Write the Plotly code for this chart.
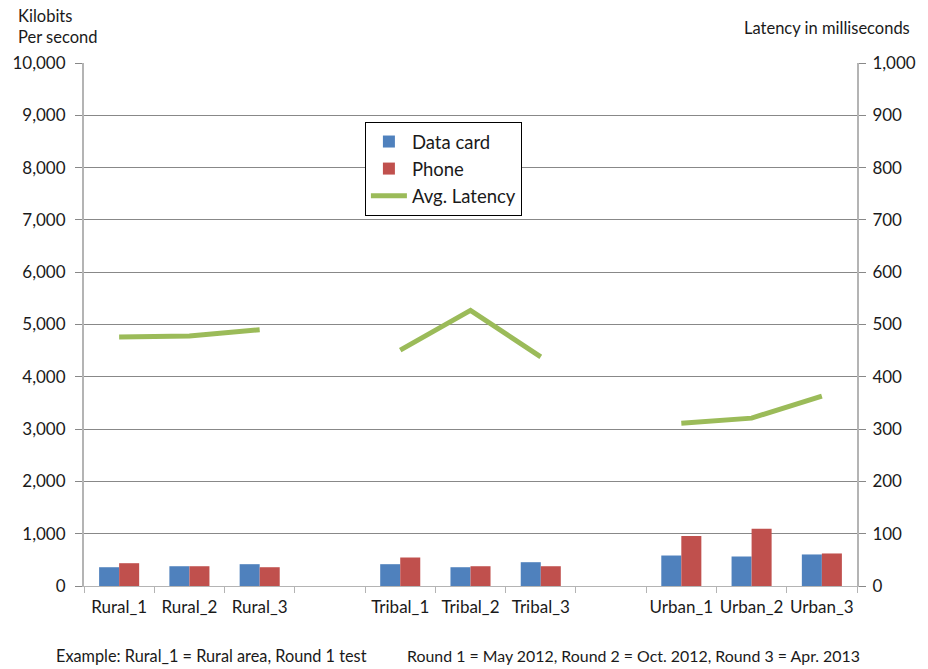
import plotly.graph_objects as go

# Test sites; blank slots separate the Rural / Tribal / Urban groups
categories = ["Rural_1", "Rural_2", "Rural_3", " ",
              "Tribal_1", "Tribal_2", "Tribal_3", "  ",
              "Urban_1", "Urban_2", "Urban_3"]

# Throughput in kilobits per second
data_card = [359, 378, 417, None, 417, 359, 455, None, 583, 564, 603]
phone = [436, 378, 359, None, 545, 378, 378, None, 955, 1096, 622]

# Average latency in milliseconds
avg_latency = [476, 478, 490, None, 451, 527, 438, None, 311, 321, 363]

FONT = "Lato, 'Open Sans', sans-serif"
GRID = "#888888"
AXIS = "#b4b4b4"

W, H = 928, 669
L, R, T, B = 83, 69, 63, 83
pw, ph = W - L - R, H - T - B


def px_x(x):
    return (x - L) / pw


def px_y(y):
    return (H - B - y) / ph


fig = go.Figure()
fig.add_trace(go.Bar(x=categories, y=data_card, name="Data card",
                     marker=dict(color="#4f81bd", line=dict(width=0))))
fig.add_trace(go.Bar(x=categories, y=phone, name="Phone",
                     marker=dict(color="#c0504d", line=dict(width=0))))
fig.add_trace(go.Scatter(x=categories, y=avg_latency, name="Avg. Latency",
                         mode="lines", yaxis="y2", connectgaps=False,
                         line=dict(color="#9bbb59", width=5)))


def note(text, x, y, size=16.5, xanchor="left", align="left"):
    return dict(text=text, x=px_x(x), y=px_y(y), xref="paper", yref="paper",
                showarrow=False, align=align, xanchor=xanchor, yanchor="top",
                borderpad=0, font=dict(family=FONT, size=size, color="#1a1a1a"))


fig.update_layout(
    width=W, height=H,
    margin=dict(l=L, r=R, t=T, b=B, pad=0),
    paper_bgcolor="white", plot_bgcolor="white",
    font=dict(family=FONT, size=17, color="#1a1a1a"),
    barmode="group", bargap=0.43, bargroupgap=0,
    showlegend=True,
    legend=dict(x=px_x(365), y=px_y(122),
                xanchor="left", yanchor="top",
                bgcolor="white", bordercolor="#000000", borderwidth=1,
                font=dict(family=FONT, size=18.5, color="#1a1a1a"),
                tracegroupgap=0, itemwidth=36, traceorder="normal"),
    xaxis=dict(type="category", categoryorder="array", categoryarray=categories,
               range=[-0.5, len(categories) - 0.5],
               tickson="boundaries", ticks="outside", ticklen=6, tickcolor=AXIS,
               tickangle=0, ticklabelstandoff=6,
               showline=True, linecolor=AXIS, linewidth=1, showgrid=False,
               tickfont=dict(family=FONT, size=17), fixedrange=True),
    yaxis=dict(range=[0, 10000], dtick=1000, tickformat=",",
               showgrid=True, gridcolor=GRID, gridwidth=1,
               showline=True, linecolor=AXIS, linewidth=2,
               ticks="outside", ticklen=7, tickcolor=GRID, ticklabelstandoff=6,
               zeroline=False, tickfont=dict(family=FONT, size=17)),
    yaxis2=dict(range=[0, 1000], dtick=100, tickformat=",",
                overlaying="y", side="right", showgrid=False,
                showline=True, linecolor=AXIS, linewidth=2,
                ticks="outside", ticklen=7, tickcolor=GRID, ticklabelstandoff=3,
                zeroline=False, tickfont=dict(family=FONT, size=17)),
    annotations=[
        note("Kilobits<br>Per second", 16, 5),
        note("Latency in milliseconds", 913, 17, xanchor="right"),
        note("Example: Rural_1 = Rural area, Round 1 test", 54, 645, size=16.3),
        note("Round 1 = May 2012, Round 2 = Oct. 2012, Round 3 = Apr. 2013",
             863, 645, size=15.9, xanchor="right"),
    ],
)

fig.write_html("out.html")
